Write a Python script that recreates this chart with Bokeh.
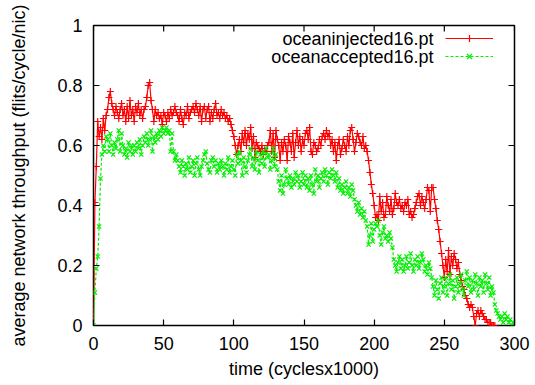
from bokeh.plotting import figure
from bokeh.models import Range1d, FixedTicker, Legend, LegendItem, Label
from bokeh.embed import file_html
from bokeh.resources import INLINE

# ---- data ----
injected = [
    0, 0.41, 0.53, 0.68, 0.63, 0.66, 0.62, 0.69, 0.65, 0.70,
    0.72, 0.76, 0.78, 0.74, 0.72, 0.70, 0.73, 0.71, 0.69, 0.72,
    0.74, 0.70, 0.72, 0.68, 0.73, 0.69, 0.75, 0.70, 0.72, 0.68,
    0.73, 0.71, 0.74, 0.70, 0.72, 0.69, 0.72, 0.73, 0.76, 0.80,
    0.81, 0.75, 0.72, 0.68, 0.72, 0.70, 0.71, 0.69, 0.70, 0.67,
    0.71, 0.70, 0.68, 0.71, 0.69, 0.72, 0.70, 0.71, 0.73, 0.71,
    0.70, 0.68, 0.72, 0.69, 0.67, 0.71, 0.70, 0.73, 0.69, 0.71,
    0.72, 0.73, 0.71, 0.74, 0.72, 0.70, 0.73, 0.68, 0.72, 0.73,
    0.69, 0.72, 0.73, 0.68, 0.71, 0.69, 0.72, 0.74, 0.70, 0.71,
    0.69, 0.72, 0.70, 0.71, 0.69, 0.70, 0.68, 0.69, 0.67, 0.65,
    0.63, 0.60, 0.57, 0.60, 0.62, 0.58, 0.64, 0.61, 0.65, 0.60,
    0.64, 0.62, 0.66, 0.59, 0.63, 0.56, 0.61, 0.60, 0.59, 0.58,
    0.60, 0.57, 0.59, 0.58, 0.60, 0.61, 0.65, 0.58, 0.64, 0.56,
    0.65, 0.62, 0.60, 0.55, 0.61, 0.58, 0.62, 0.60, 0.55, 0.63,
    0.61, 0.58, 0.64, 0.56, 0.61, 0.65, 0.60, 0.63, 0.58, 0.62,
    0.60, 0.64, 0.65, 0.62, 0.66, 0.58, 0.57, 0.61, 0.60, 0.58,
    0.59, 0.62, 0.60, 0.63, 0.64, 0.62, 0.65, 0.63, 0.64, 0.60,
    0.62, 0.58, 0.61, 0.55, 0.60, 0.62, 0.57, 0.59, 0.62, 0.60,
    0.58, 0.63, 0.60, 0.65, 0.66, 0.62, 0.58, 0.61, 0.64, 0.63,
    0.61, 0.60, 0.63, 0.59, 0.60, 0.58, 0.55, 0.51, 0.47, 0.44,
    0.40, 0.36, 0.37, 0.35, 0.43, 0.38, 0.41, 0.36, 0.37, 0.43,
    0.40, 0.38, 0.42, 0.37, 0.39, 0.44, 0.41, 0.40, 0.42, 0.39,
    0.40, 0.38, 0.41, 0.40, 0.42, 0.37, 0.38, 0.36, 0.37, 0.39,
    0.41, 0.43, 0.44, 0.40, 0.43, 0.41, 0.39, 0.42, 0.46, 0.45,
    0.38, 0.46, 0.46, 0.42, 0.39, 0.35, 0.32, 0.28, 0.24, 0.20,
    0.16, 0.22, 0.18, 0.25, 0.17, 0.23, 0.20, 0.24, 0.22, 0.19,
    0.21, 0.17, 0.15, 0.13, 0.12, 0.10, 0.09, 0.07, 0.06, 0.07,
    0.06, 0.03, 0.00, 0.04, 0.05, 0.03, 0.05, 0.04, 0.03, 0.02,
    0.02, 0.01, 0.01, 0.01, 0.00, 0.00, 0.00,
]

accepted = [
    0, 0.11, 0.19, 0.23, 0.33, 0.49, 0.57, 0.60, 0.58, 0.63,
    0.62, 0.58, 0.64, 0.60, 0.57, 0.61, 0.59, 0.62, 0.65, 0.58,
    0.64, 0.60, 0.57, 0.59, 0.56, 0.61, 0.58, 0.60, 0.57, 0.60,
    0.58, 0.61, 0.59, 0.62, 0.57, 0.60, 0.63, 0.61, 0.64, 0.60,
    0.62, 0.65, 0.58, 0.63, 0.61, 0.64, 0.62, 0.65, 0.63, 0.66,
    0.64, 0.65, 0.66, 0.64, 0.65, 0.58, 0.64, 0.58, 0.55, 0.57,
    0.55, 0.53, 0.51, 0.55, 0.53, 0.50, 0.54, 0.52, 0.56, 0.51,
    0.53, 0.55, 0.50, 0.54, 0.56, 0.52, 0.50, 0.53, 0.55, 0.57,
    0.58, 0.54, 0.52, 0.51, 0.55, 0.56, 0.53, 0.55, 0.51, 0.54,
    0.52, 0.55, 0.53, 0.50, 0.54, 0.52, 0.56, 0.51, 0.53, 0.55,
    0.52, 0.50, 0.57, 0.54, 0.58, 0.55, 0.50, 0.56, 0.53, 0.51,
    0.55, 0.57, 0.59, 0.53, 0.56, 0.52, 0.58, 0.55, 0.51, 0.57,
    0.54, 0.58, 0.53, 0.59, 0.56, 0.57, 0.52, 0.55, 0.59, 0.53,
    0.57, 0.52, 0.48, 0.45, 0.50, 0.44, 0.47, 0.52, 0.49, 0.47,
    0.50, 0.46, 0.49, 0.47, 0.51, 0.48, 0.50, 0.46, 0.48, 0.51,
    0.47, 0.50, 0.46, 0.49, 0.45, 0.50, 0.47, 0.44, 0.52, 0.48,
    0.50, 0.46, 0.49, 0.51, 0.48, 0.52, 0.50, 0.47, 0.51, 0.49,
    0.52, 0.50, 0.48, 0.51, 0.46, 0.49, 0.45, 0.47, 0.44, 0.46,
    0.48, 0.44, 0.46, 0.43, 0.47, 0.45, 0.42, 0.40, 0.38, 0.41,
    0.37, 0.39, 0.36, 0.38, 0.35, 0.33, 0.27, 0.30, 0.34, 0.28,
    0.32, 0.34, 0.33, 0.35, 0.30, 0.27, 0.31, 0.33, 0.29, 0.30,
    0.28, 0.31, 0.29, 0.26, 0.22, 0.20, 0.18, 0.21, 0.23, 0.19,
    0.22, 0.18, 0.20, 0.23, 0.19, 0.21, 0.24, 0.20, 0.18, 0.22,
    0.20, 0.23, 0.19, 0.21, 0.24, 0.22, 0.18, 0.20, 0.17, 0.21,
    0.19, 0.16, 0.13, 0.10, 0.15, 0.12, 0.09, 0.14, 0.16, 0.11,
    0.13, 0.16, 0.10, 0.14, 0.17, 0.12, 0.15, 0.09, 0.13, 0.16,
    0.11, 0.14, 0.17, 0.12, 0.10, 0.15, 0.18, 0.13, 0.16, 0.11,
    0.15, 0.12, 0.17, 0.14, 0.10, 0.16, 0.13, 0.15, 0.11, 0.17,
    0.14, 0.12, 0.16, 0.10, 0.13, 0.11, 0.07, 0.05, 0.04, 0.03,
    0.02, 0.03, 0.01, 0.04, 0.02, 0.03, 0.01, 0.02, 0.00, 0.01, 0.00,
]

time_injected = list(range(len(injected)))
time_accepted = list(range(len(accepted)))

series_names = ["oceaninjected16.pt", "oceanaccepted16.pt"]
x_ticks = [0, 50, 100, 150, 200, 250, 300]
y_ticks = [0, 0.2, 0.4, 0.6, 0.8, 1]
y_tick_labels = ["0", "0.2", "0.4", "0.6", "0.8", "1"]

X_MIN, X_MAX, Y_MIN, Y_MAX = 0, 300, 0, 1

FONT = "Liberation Sans"
FS = "18px"

W, H = 535, 385
BL, BR, BT, BB = 93, 21, 25, 60
TICK_PX = 6

p = figure(width=W, height=H, output_backend="svg", toolbar_location=None,
           x_range=Range1d(X_MIN, X_MAX), y_range=Range1d(Y_MIN, Y_MAX),
           min_border_left=BL, min_border_right=BR, min_border_top=BT, min_border_bottom=BB)
p.background_fill_color = "white"
p.border_fill_color = "white"
p.xgrid.visible = False
p.ygrid.visible = False
p.outline_line_color = "black"
p.outline_line_width = 1.5
p.outline_line_alpha = 1.0

r_line = p.line(time_injected, injected, line_color="#ff0000", line_width=1.2)
r_pts = p.scatter(time_injected, injected, marker="cross", size=7, line_color="#ff0000", line_width=1.2)
g_line = p.line(time_accepted, accepted, line_color="#00ee00", line_width=1.2, line_dash="3 2")
g_pts = p.scatter(time_accepted, accepted, marker="x", size=6, line_color="#00ee00", line_width=1.2)

# mirrored inward ticks on the top and right border (gnuplot style)
dx = (X_MAX - X_MIN) / (W - BL - BR) * TICK_PX
dy = (Y_MAX - Y_MIN) / (H - BT - BB) * TICK_PX
p.segment(x0=x_ticks, x1=x_ticks, y0=[Y_MAX] * len(x_ticks), y1=[Y_MAX - dy] * len(x_ticks),
          line_color="black", line_width=1.2)
p.segment(x0=[X_MAX] * len(y_ticks), x1=[X_MAX - dx] * len(y_ticks), y0=y_ticks, y1=y_ticks,
          line_color="black", line_width=1.2)

def style_axis(ax):
    ax.axis_line_color = None
    ax.major_tick_in = TICK_PX
    ax.major_tick_out = 0
    ax.major_tick_line_color = "black"
    ax.major_tick_line_width = 1.2
    ax.minor_tick_line_color = None
    ax.major_label_text_font = FONT
    ax.major_label_text_color = "black"
    ax.major_label_text_font_size = FS
    ax.axis_label_text_font = FONT
    ax.axis_label_text_font_size = FS
    ax.axis_label_text_font_style = "normal"
    ax.axis_label_text_color = "black"

xax = p.xaxis[0]
yax = p.yaxis[0]
xax.ticker = FixedTicker(ticks=x_ticks)
yax.ticker = FixedTicker(ticks=y_ticks)
yax.major_label_overrides = {t: s for t, s in zip(y_ticks, y_tick_labels)}
style_axis(xax)
style_axis(yax)
xax.axis_label = "time (cyclesx1000)"
yax.axis_label = "average network throughput (flits/cycle/nic)"
xax.major_label_standoff = 11
xax.axis_label_standoff = 6
yax.major_label_standoff = 11
yax.axis_label_standoff = 25

legend = Legend(items=[LegendItem(label=" ", renderers=[r_line, r_pts]),
                       LegendItem(label=" ", renderers=[g_line, g_pts])],
                location=(352, 260), glyph_width=48, glyph_height=18, spacing=0,
                padding=0, margin=0, label_standoff=0, label_width=1,
                label_text_font=FONT, label_text_font_size=FS, border_line_color=None,
                background_fill_alpha=0)
p.add_layout(legend)

for i, name in enumerate(series_names):
    p.add_layout(Label(x=340, y=287 - 18 * i, x_units="screen", y_units="screen",
                       text=name, text_align="right", text_baseline="middle",
                       text_font=FONT, text_font_size=FS, text_color="black"))

open("out.html", "w").write(file_html(p, INLINE))
